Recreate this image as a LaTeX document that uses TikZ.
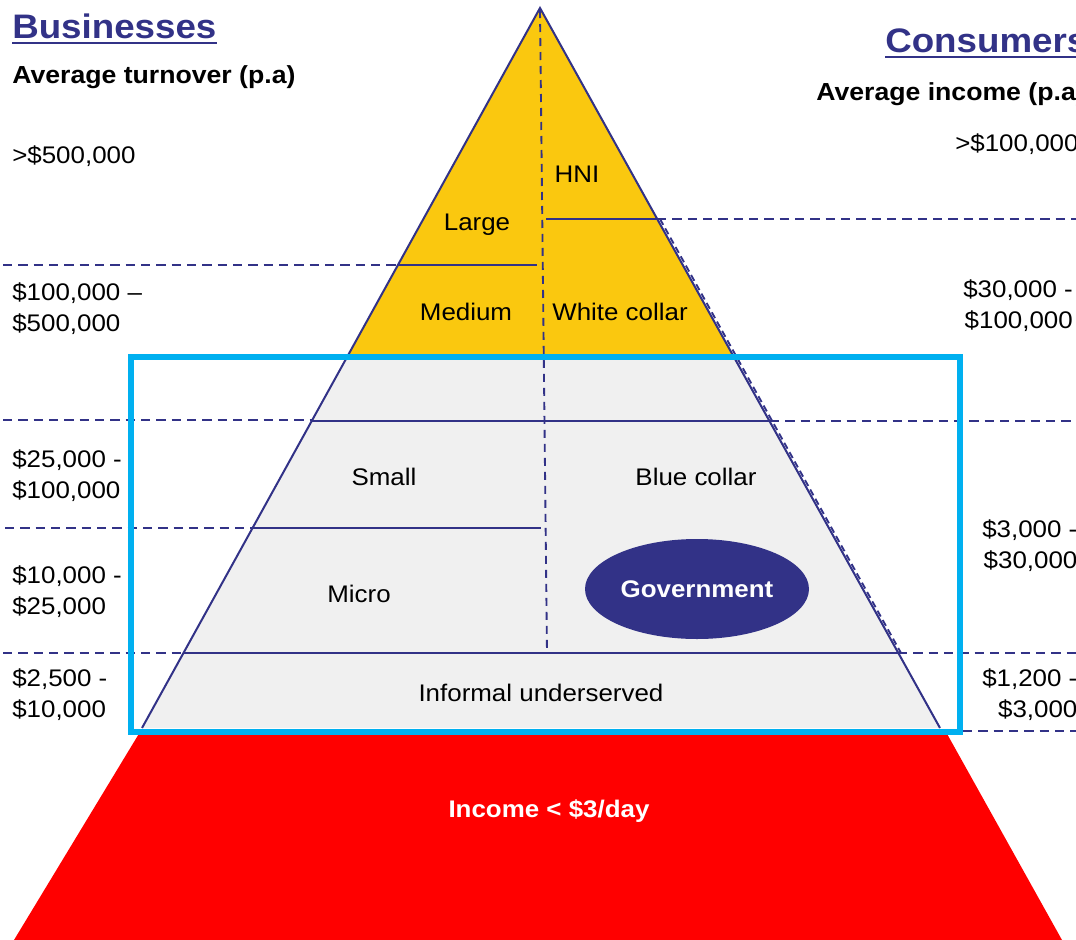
\documentclass[tikz,border=0pt]{standalone}
\usepackage{fontspec}
\setmainfont[FakeStretch=1.08]{Liberation Sans}
\usetikzlibrary{shapes.geometric}
\definecolor{pnavy}{RGB}{50,50,135}
\definecolor{pgold}{RGB}{250,200,15}
\definecolor{pgrey}{RGB}{240,240,240}
\definecolor{pcyan}{RGB}{0,176,240}
\definecolor{pred}{RGB}{255,0,0}
\tikzset{
  divider/.style={pnavy, line width=1.5pt},
  guide/.style={pnavy, line width=1.4pt, dash pattern=on 7pt off 4.5pt},
  seg/.style={inner sep=0, anchor=base, font=\fontsize{18}{22}\selectfont},
  scalelabel/.style={inner sep=0, font=\fontsize{18}{23.25}\selectfont},
  heading/.style={inner sep=0, anchor=base west, text=pnavy, font=\fontsize{25.5}{30}\selectfont\bfseries},
  subhead/.style={inner sep=0, anchor=base west, font=\fontsize{18.5}{22}\selectfont\bfseries},
  govt/.style={ellipse, fill=pnavy, inner sep=0, minimum width=168pt, minimum height=75pt, text=white, font=\fontsize{18}{22}\selectfont\bfseries},
  banner/.style={inner sep=0, anchor=base, text=white, font=\fontsize{18}{22}\selectfont\bfseries}
}

\begin{document}
\begin{tikzpicture}[x=0.75pt, y=-0.75pt]
\useasboundingbox (0,0) rectangle (1076,940);
\clip (0,0) rectangle (1076,940);
\coordinate (apex) at (540,8);
\coordinate (baseL) at (142,728);
\coordinate (baseR) at (940,728);

% red base and the two tiers of the pyramid
\fill[pred] (140,732) -- (946,732) -- (1062,940) -- (14,940) -- cycle;
\fill[pgrey] (347,357) -- (734,357) -- (baseR) -- (baseL) -- cycle;
\fill[pgold] (apex) -- (734,357) -- (347,357) -- cycle;

% dashed guides out to the scales
\draw[guide] (3,265) -- (398,265);
\draw[guide] (657,219) -- (1076,219);
\draw[guide] (3,420) -- (312,420);
\draw[guide] (770,421) -- (1076,421);
\draw[guide] (5,528) -- (253,528);
\draw[guide] (3,653) -- (183,653);
\draw[guide] (898,653) -- (1076,653);
\draw[guide] (963,731) -- (1076,731);
\draw[guide, dash pattern=on 6pt off 4.5pt] (540,10) -- (547,653);
\draw[guide, dash pattern=on 5pt off 3pt] (660,219) -- (901,653);

% segment borders
\draw[divider] (546,219) -- (657,219);
\draw[divider] (398,265) -- (537,265);
\draw[divider] (312,421) -- (770,421);
\draw[divider] (253,528) -- (541,528);
\draw[divider] (183,653) -- (898,653);
\draw[divider] (baseL) -- (apex) -- (baseR);

% focus frame
\draw[pcyan, line width=4.5pt] (131,357) rectangle (960,732);

% segments
\node[seg] (hni) at (577,182) {HNI};
\node[seg] (large) at (477,230) {Large};
\node[seg] (medium) at (466,320) {Medium};
\node[seg] (white) at (620,320) {White collar};
\node[seg] (small) at (384,485) {Small};
\node[seg] (blue) at (696,485) {Blue collar};
\node[seg] (micro) at (359,602) {Micro};
\node[govt] (gov) at (697,589) {Government};
\node[seg] (informal) at (541,701) {Informal underserved};
\node[banner] (poor) at (549,817) {Income < \$3/day};

% businesses scale
\node[heading] (bus) at (12,38) {Businesses};
\draw[pnavy, line width=2.2pt] ([yshift=-3.75pt]bus.base west) -- ([yshift=-3.75pt]bus.base east);
\node[subhead] (turnover) at (12,83) {Average turnover (p.a)};
\node[scalelabel, anchor=base west] (b1) at (12,163) {>\$500,000};
\node[scalelabel, anchor=west, align=left] (b2) at (12,309) {\$100,000 –\\\$500,000};
\node[scalelabel, anchor=west, align=left] (b3) at (12,476) {\$25,000 -\\\$100,000};
\node[scalelabel, anchor=west, align=left] (b4) at (12,592) {\$10,000 -\\\$25,000};
\node[scalelabel, anchor=west, align=left] (b5) at (12,695) {\$2,500 -\\\$10,000};

% consumers scale
\node[heading] (con) at (885,52) {Consumers};
\draw[pnavy, line width=2.2pt] ([yshift=-3.75pt]con.base west) -- ([yshift=-3.75pt]con.base east);
\node[subhead] (income) at (816,100) {Average income (p.a)};
\node[scalelabel, anchor=base west] (c1) at (955,151) {>\$100,000};
\node[scalelabel, anchor=west, align=right] (c2) at (963,306) {\$30,000 -\\\$100,000};
\node[scalelabel, anchor=west, align=right] (c3) at (982,546) {\$3,000 -\\\$30,000};
\node[scalelabel, anchor=west, align=right] (c4) at (982,695) {\$1,200 -\\\$3,000};
\end{tikzpicture}
\end{document}
